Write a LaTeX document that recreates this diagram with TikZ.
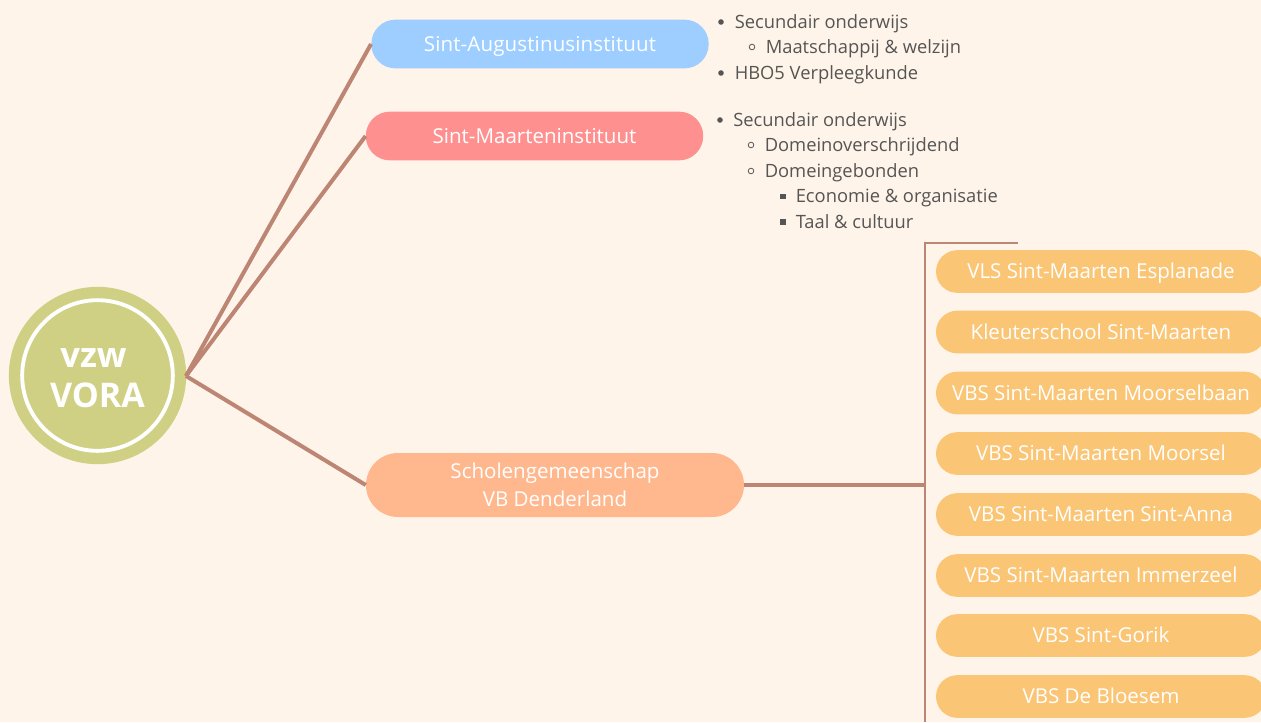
\documentclass[tikz,border=0pt]{standalone}
\usepackage{fontspec}
\setmainfont{Open Sans}
\definecolor{bgc}{HTML}{FFF4E9}
\definecolor{linec}{HTML}{BC8574}
\definecolor{olive}{HTML}{D0D085}
\definecolor{blueb}{HTML}{9DCEFF}
\definecolor{redb}{HTML}{FF9090}
\definecolor{peach}{HTML}{FFB88D}
\definecolor{amber}{HTML}{FAC575}
\definecolor{txt}{HTML}{555555}
\tikzset{x=0.75pt,y=-0.75pt,
 pill/.style={inner sep=0pt,text=white,font=\fontsize{15.4pt}{21pt}\selectfont,align=center},
 branch/.style={pill,rounded corners=18pt,minimum height=36.5pt},
 oneline/.style={text height=11pt,text depth=0pt},
 school/.style={pill,oneline,rounded corners=16pt,fill=amber,minimum width=247.5pt,minimum height=32pt},
 conn/.style={linec,line width=3pt},
 bracket/.style={linec,line width=1.8pt},
 item/.style={anchor=base west,inner sep=0pt,text=txt,font=\fontsize{13.75pt}{16pt}\selectfont},
 dotb/.style={circle,fill=txt,inner sep=0pt,minimum size=4.2pt},
 ringb/.style={circle,draw=txt,line width=0.6pt,inner sep=0pt,minimum size=4.2pt},
 squareb/.style={rectangle,fill=txt,inner sep=0pt,minimum size=4.2pt},
}
\begin{document}
\begin{tikzpicture}
\useasboundingbox[fill=bgc] (0,0) rectangle (1261,722);
\clip (0,0) rectangle (1261,722);
% centre
\node[circle,fill=olive,minimum size=133pt,inner sep=0pt] (root) at (97.5,375.5) {};
\node[circle,draw=white,line width=2.9pt,minimum size=113pt,inner sep=0pt] (ring) at (97.5,375.5) {};
\node[text=white,font=\fontsize{26pt}{26pt}\selectfont\bfseries,inner sep=0pt] (vzw) at (93.5,358) {vzw};
\node[text=white,font=\fontsize{25.5pt}{26pt}\selectfont\bfseries,inner sep=0pt] (vora) at (97.5,395) {VORA};
% branches
\node[branch,oneline,fill=blueb,minimum width=253pt] (aug) at (540,44) {\addfontfeature{LetterSpace=0.6}Sint-Augustinusinstituut};
\node[branch,oneline,fill=redb,minimum width=253pt] (maa) at (534.5,136) {Sint-Maarteninstituut};
\node[branch,fill=peach,minimum width=283.5pt,minimum height=48pt,rounded corners=24pt] (sg) at (555,485) {Scholengemeenschap\\VB Denderland};
\coordinate (hub) at (186,376);
\draw[conn] (hub) -- (aug.west);
\draw[conn] (hub) -- (maa.west);
\draw[conn] (hub) -- (sg.west);
% bracket
\coordinate (bt) at (925,243);
\coordinate (btr) at (1018,243);
\coordinate (bb) at (925,722);
\coordinate (bm) at (925,485);
\draw[bracket] (btr) -- (bt) -- (bb);
\draw[conn] (sg.east) -- (bm);
% schools
\node[school] (s1) at (1101,271.5) {VLS Sint-Maarten Esplanade};
\node[school] (s2) at (1101,332) {Kleuterschool Sint-Maarten};
\node[school] (s3) at (1101,393) {VBS Sint-Maarten Moorselbaan};
\node[school] (s4) at (1101,453.5) {VBS Sint-Maarten Moorsel};
\node[school] (s5) at (1101,514.5) {VBS Sint-Maarten Sint-Anna};
\node[school] (s6) at (1101,575.5) {VBS Sint-Maarten Immerzeel};
\node[school] (s7) at (1101,635.5) {VBS Sint-Gorik};
\node[school] (s8) at (1101,696.5) {VBS De Bloesem};
% lists
\node[dotb] (b1) at (721,22) {};
\node[item] (t1) at (734.5,28) {Secundair onderwijs};
\node[ringb] (b2) at (752,47) {};
\node[item] (t2) at (765.5,53) {Maatschappij \& welzijn};
\node[dotb] (b3) at (721,73) {};
\node[item] (t3) at (734.5,79) {HBO5 Verpleegkunde};
\node[dotb] (b4) at (720,120) {};
\node[item] (t4) at (733,126) {Secundair onderwijs};
\node[ringb] (b5) at (751,145) {};
\node[item] (t5) at (764.5,151) {Domeinoverschrijdend};
\node[ringb] (b6) at (751,171) {};
\node[item] (t6) at (764.5,177) {Domeingebonden};
\node[squareb] (b7) at (783,196.5) {};
\node[item] (t7) at (795.5,202) {Economie \& organisatie};
\node[squareb] (b8) at (783,222) {};
\node[item] (t8) at (795.5,228) {Taal \& cultuur};
\end{tikzpicture}
\end{document}
